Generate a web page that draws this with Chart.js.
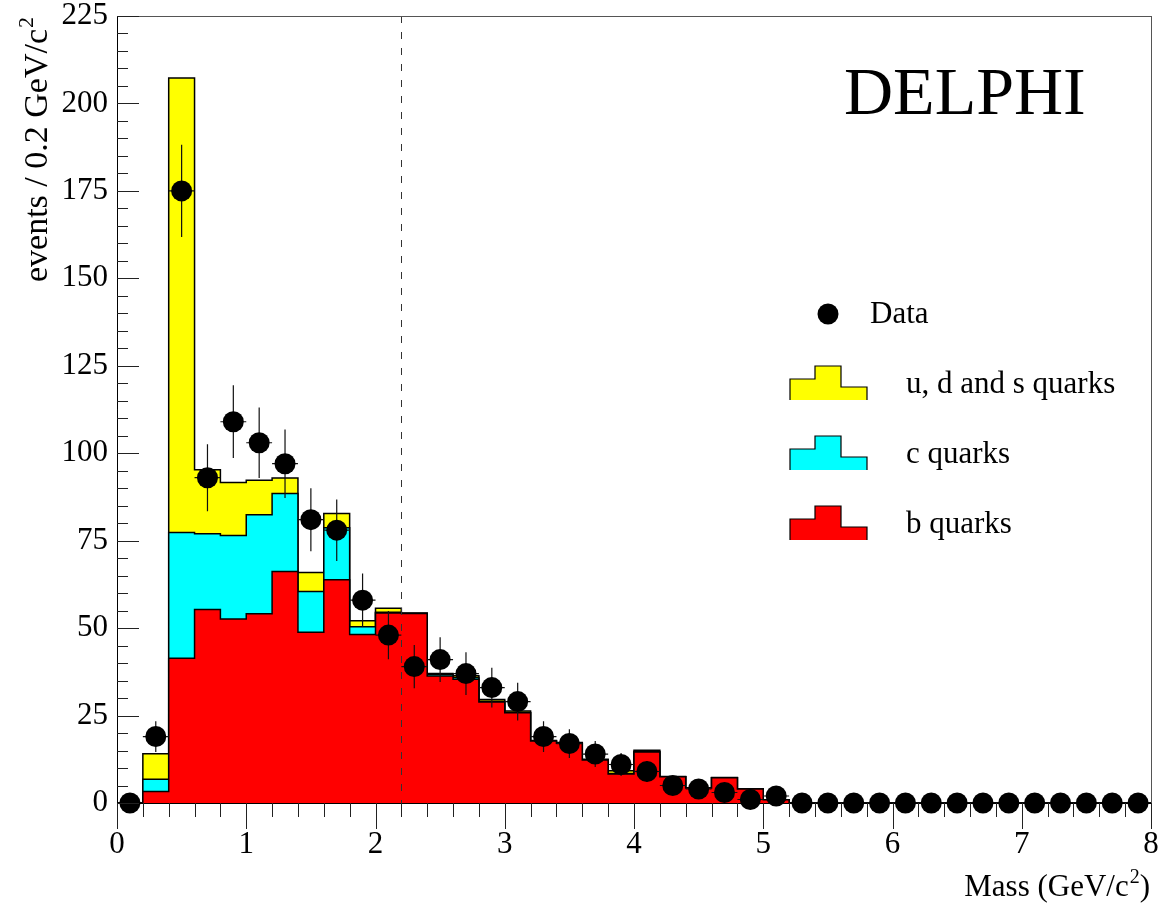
<!DOCTYPE html>
<html>
<head>
<meta charset="utf-8">
<script src="https://cdn.jsdelivr.net/npm/chart.js@4.4.1/dist/chart.umd.min.js"></script>
<style>
  html, body { margin: 0; padding: 0; background: #fff; }
  #wrap { width: 1166px; height: 906px; }
</style>
</head>
<body>
<div id="wrap"><canvas id="massChart" width="1166" height="906"></canvas></div>
<script>
const FONT = "'Liberation Serif', 'Times New Roman', serif";

// bin centres, 0.2 GeV/c^2 wide
const massCenters = [
  0.1, 0.3, 0.5, 0.7, 0.9, 1.1, 1.3, 1.5, 1.7, 1.9,
  2.1, 2.3, 2.5, 2.7, 2.9, 3.1, 3.3, 3.5, 3.7, 3.9,
  4.1, 4.3, 4.5, 4.7, 4.9, 5.1, 5.3, 5.5, 5.7, 5.9,
  6.1, 6.3, 6.5, 6.7, 6.9, 7.1, 7.3, 7.5, 7.7, 7.9
];
const BIN_HALF = 0.1;

const dataCounts = [
  0, 19, 175, 93, 109, 103, 97, 81, 78, 58,
  48, 39, 41, 37, 33, 29, 19, 17, 14, 11,
  9, 5, 4, 3, 1, 2, 0, 0, 0, 0,
  0, 0, 0, 0, 0, 0, 0, 0, 0, 0
];
const dataErrors = [
  0, 4.4, 13.2, 9.6, 10.4, 10.1, 9.8, 9.0, 8.8, 7.6,
  6.9, 6.2, 6.4, 6.1, 5.7, 5.4, 4.4, 4.1, 3.7, 3.3,
  3.0, 2.2, 2.0, 1.7, 1.0, 1.4, 0, 0, 0, 0,
  0, 0, 0, 0, 0, 0, 0, 0, 0, 0
];

// simulated contributions (stacked: b at the bottom, then c, then u/d/s)
const bQuarks = [
  0, 3.3, 41.4, 55.3, 52.6, 54.1, 66.2, 48.8, 63.8, 48.2,
  54.3, 54.2, 36.3, 35.4, 28.9, 25.8, 17.7, 17.1, 12.3, 8.3,
  14.6, 7.5, 4.3, 7.2, 4.0, 0.9, 0, 0, 0, 0,
  0, 0, 0, 0, 0, 0, 0, 0, 0, 0
];
const cQuarks = [
  0, 3.5, 35.9, 21.7, 23.9, 28.3, 22.3, 11.7, 14.9, 2.2,
  0.2, 0, 0.5, 0.5, 0.2, 0.1, 0, 0, 0, 0.1,
  0.1, 0, 0, 0, 0, 0, 0, 0, 0, 0,
  0, 0, 0, 0, 0, 0, 0, 0, 0, 0
];
const udsQuarks = [
  0, 7.3, 130, 18.3, 15.1, 9.9, 4.4, 5.4, 4.1, 1.7,
  1.2, 0.1, 0.2, 0.5, 0.5, 0.4, 0.2, 0.2, 0.2, 0.8,
  0.4, 0.1, 0, 0.1, 0, 0, 0, 0, 0, 0,
  0, 0, 0, 0, 0, 0, 0, 0, 0, 0
];

const xTickLabels = ["0", "1", "2", "3", "4", "5", "6", "7", "8"];
const legendItems = [
  { label: "u, d and s quarks", color: "#ffff00" },
  { label: "c quarks", color: "#00ffff" },
  { label: "b quarks", color: "#ff0000" }
];
const CUT_MASS = 2.2;

// left edge of each bin, plus the closing edge, for a stepped outline
function stepPoints(values) {
  const pts = massCenters.map((c, i) => ({ x: Math.round((c - BIN_HALF) * 10) / 10, y: values[i] }));
  const last = massCenters[massCenters.length - 1];
  pts.push({ x: Math.round((last + BIN_HALF) * 10) / 10, y: 0 });
  return pts;
}

function histDataset(values, color, fill) {
  return {
    data: stepPoints(values),
    stack: "mc",
    stepped: "before",
    borderColor: "#000",
    borderWidth: 1.5,
    backgroundColor: color,
    fill: fill,
    pointRadius: 0,
    tension: 0
  };
}

function drawSupText(ctx, main, sup, tail, xRight, y, size) {
  ctx.textAlign = "right";
  ctx.textBaseline = "alphabetic";
  let x = xRight;
  ctx.font = `${size}px ${FONT}`;
  if (tail) {
    ctx.fillText(tail, x, y);
    x -= ctx.measureText(tail).width;
  }
  ctx.font = `${Math.round(size * 0.65)}px ${FONT}`;
  ctx.fillText(sup, x, y - size * 0.42);
  x -= ctx.measureText(sup).width + 1;
  ctx.font = `${size}px ${FONT}`;
  ctx.fillText(main, x, y);
}

function stepShape(ctx, x0, yBottom, color) {
  const path = () => {
    ctx.beginPath();
    ctx.moveTo(x0, yBottom);
    ctx.lineTo(x0, yBottom - 21);
    ctx.lineTo(x0 + 25, yBottom - 21);
    ctx.lineTo(x0 + 25, yBottom - 34);
    ctx.lineTo(x0 + 51, yBottom - 34);
    ctx.lineTo(x0 + 51, yBottom - 13);
    ctx.lineTo(x0 + 77, yBottom - 13);
    ctx.lineTo(x0 + 77, yBottom);
  };
  path();
  ctx.closePath();
  ctx.fillStyle = color;
  ctx.fill();
  path();
  ctx.strokeStyle = "#000";
  ctx.lineWidth = 1.2;
  ctx.stroke();
}

const errorBars = {
  id: "errorBars",
  beforeDatasetDraw(chart, args) {
    if (args.index !== 0) return;
    const ctx = chart.ctx;
    const xs = chart.scales.x;
    const ys = chart.scales.y;
    ctx.save();
    ctx.strokeStyle = "#111";
    ctx.lineWidth = 1.2;
    for (let i = 0; i < massCenters.length; i++) {
      const px = xs.getPixelForValue(massCenters[i]);
      const py = ys.getPixelForValue(dataCounts[i]);
      ctx.beginPath();
      ctx.moveTo(xs.getPixelForValue(massCenters[i] - BIN_HALF), py);
      ctx.lineTo(xs.getPixelForValue(massCenters[i] + BIN_HALF), py);
      if (dataErrors[i] > 0) {
        ctx.moveTo(px, ys.getPixelForValue(dataCounts[i] + dataErrors[i]));
        ctx.lineTo(px, ys.getPixelForValue(dataCounts[i] - dataErrors[i]));
      }
      ctx.stroke();
    }
    ctx.restore();
  }
};

const decorations = {
  id: "decorations",
  afterDraw(chart) {
    const ctx = chart.ctx;
    const a = chart.chartArea;
    const xs = chart.scales.x;
    const ys = chart.scales.y;
    ctx.save();

    // cut line
    const cx = Math.round(xs.getPixelForValue(CUT_MASS)) + 0.5;
    ctx.strokeStyle = "#333";
    ctx.lineWidth = 1;
    ctx.setLineDash([7, 9]);
    ctx.beginPath();
    ctx.moveTo(cx, a.top);
    ctx.lineTo(cx, a.bottom);
    ctx.stroke();
    ctx.setLineDash([]);

    // frame
    ctx.strokeStyle = "#555";
    ctx.strokeRect(a.left + 0.5, a.top + 0.5, a.right - a.left, a.bottom - a.top);
    ctx.strokeStyle = "#000";
    ctx.beginPath();
    ctx.moveTo(a.left + 0.5, a.top);
    ctx.lineTo(a.left + 0.5, a.bottom + 0.5);
    ctx.lineTo(a.right, a.bottom + 0.5);
    ctx.stroke();

    // y ticks, inside
    ctx.strokeStyle = "#222";
    ctx.beginPath();
    for (let v = 0; v <= 225; v += 5) {
      const py = Math.round(ys.getPixelForValue(v)) + 0.5;
      const len = v % 25 === 0 ? 22 : 11;
      ctx.moveTo(a.left, py);
      ctx.lineTo(a.left + len, py);
    }
    // x ticks, outside
    for (let k = 0; k <= 40; k++) {
      const px = Math.round(xs.getPixelForValue(k * 0.2)) + 0.5;
      const len = k % 5 === 0 ? 26 : 14;
      ctx.moveTo(px, a.bottom);
      ctx.lineTo(px, a.bottom + len);
    }
    ctx.stroke();

    // axis titles
    ctx.fillStyle = "#000";
    drawSupText(ctx, "Mass (GeV/c", "2", ")", 1150, 896, 31);
    ctx.save();
    ctx.translate(47, 17);
    ctx.rotate(-Math.PI / 2);
    drawSupText(ctx, "events / 0.2 GeV/c", "2", "", 0, 0, 34);
    ctx.restore();

    // experiment label
    ctx.font = `68px ${FONT}`;
    ctx.textAlign = "left";
    ctx.textBaseline = "alphabetic";
    ctx.fillText("DELPHI", 844, 114);

    // legend
    ctx.beginPath();
    ctx.arc(828, 314, 10.5, 0, Math.PI * 2);
    ctx.fill();
    ctx.font = `31px ${FONT}`;
    ctx.fillText("Data", 870, 323);
    legendItems.forEach((item, i) => {
      const yb = 400 + i * 70;
      stepShape(ctx, 790, yb, item.color);
      ctx.fillStyle = "#000";
      ctx.font = `31px ${FONT}`;
      ctx.fillText(item.label, 906, yb - 7);
    });

    ctx.restore();
  }
};

const ctx = document.getElementById("massChart").getContext("2d");

const myChart = new Chart(ctx, {
  type: "line",
  data: {
    datasets: [
      {
        data: massCenters.map((c, i) => ({ x: c, y: dataCounts[i] })),
        stack: "data",
        showLine: false,
        pointRadius: 10.5,
        pointHoverRadius: 10.5,
        pointBackgroundColor: "#000",
        pointBorderWidth: 0,
        clip: false
      },
      histDataset(bQuarks, "#ff0000", "origin"),
      histDataset(cQuarks, "#00ffff", "-1"),
      histDataset(udsQuarks, "#ffff00", "-1")
    ]
  },
  options: {
    responsive: false,
    animation: false,
    devicePixelRatio: 1,
    layout: { padding: { top: 16, right: 15, left: 0, bottom: 0 } },
    plugins: {
      legend: { display: false },
      tooltip: { enabled: false }
    },
    scales: {
      x: {
        type: "linear",
        min: 0,
        max: 8,
        grid: { display: false, drawTicks: false },
        border: { display: false },
        ticks: {
          stepSize: 1,
          padding: 23,
          color: "#000",
          font: { family: FONT, size: 31 },
          maxRotation: 0,
          callback: (v) => xTickLabels[v] !== undefined ? xTickLabels[v] : ""
        },
        afterFit: (scale) => {
          scale.height = 103;
          scale.paddingLeft = 0;
          scale.paddingRight = 0;
        }
      },
      y: {
        stacked: true,
        min: 0,
        max: 225,
        grid: { display: false, drawTicks: false },
        border: { display: false },
        ticks: {
          stepSize: 25,
          padding: 9,
          color: "#000",
          font: { family: FONT, size: 31 }
        },
        afterFit: (scale) => {
          scale.width = 117;
          scale.paddingTop = 0;
          scale.paddingBottom = 0;
        }
      }
    }
  },
  plugins: [errorBars, decorations]
});
</script>
</body>
</html>
